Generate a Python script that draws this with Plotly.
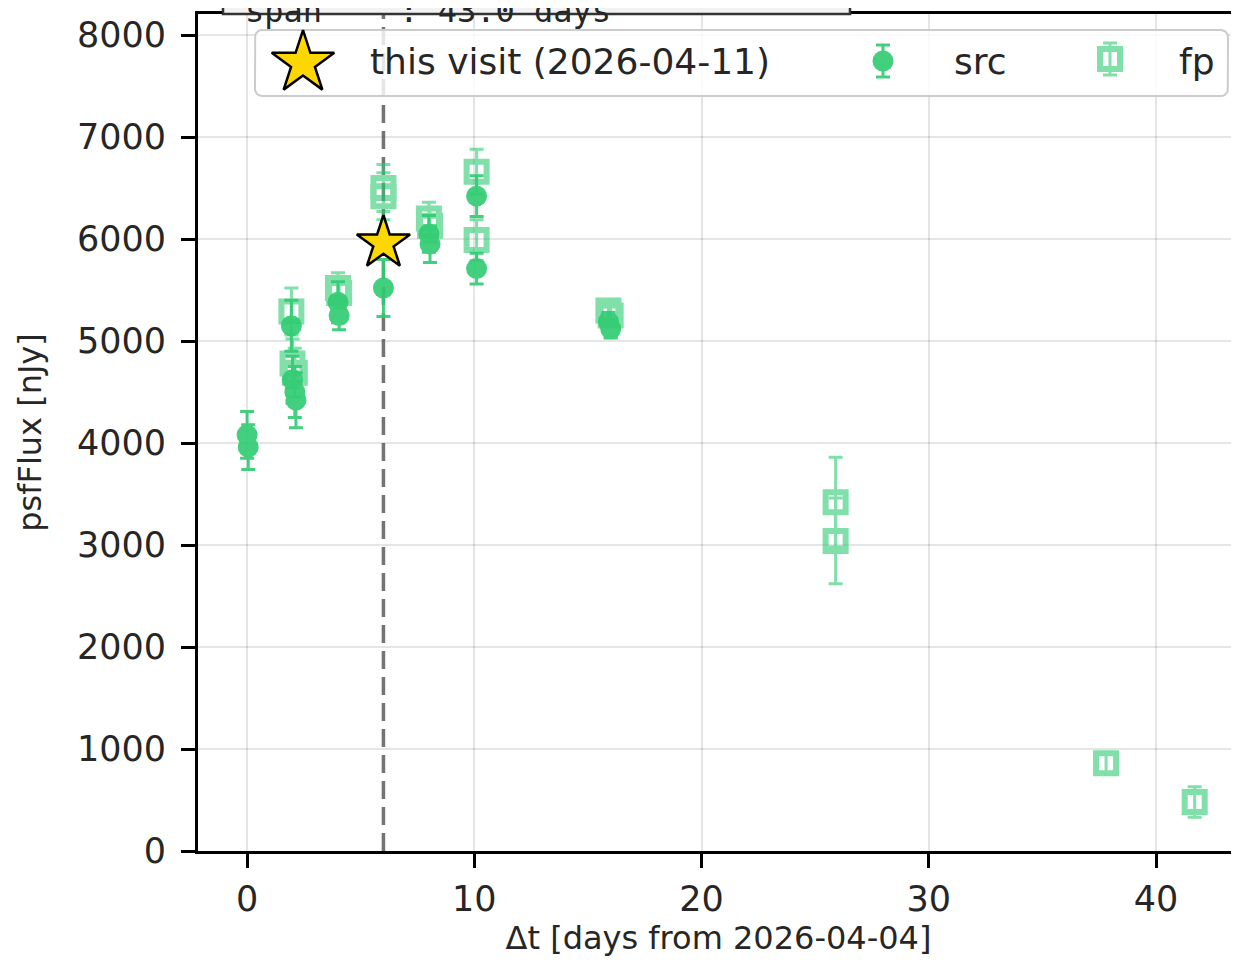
import math

import plotly.graph_objects as go

# --- data ---
src_dt = [0.0, 0.05, 1.95, 2.0, 2.1, 2.15, 4.0, 4.05, 6.0, 8.0, 8.05, 10.1, 10.1, 15.9, 16.0]
src_flux = [4080, 3960, 5150, 4620, 4500, 4420, 5380, 5250, 5520, 6050, 5950, 6420, 5710, 5190, 5120]
src_err = [230, 220, 250, 230, 250, 270, 200, 140, 280, 180, 180, 200, 150, 90, 90]

fp_dt = [1.95, 2.0, 2.1, 4.0, 4.05, 6.0, 6.0, 8.0, 8.05, 10.1, 10.1, 15.9, 16.0, 25.9, 25.9, 37.8, 41.7]
fp_flux = [5290, 4780, 4690, 5520, 5470, 6500, 6420, 6200, 6130, 6660, 5990, 5300, 5250, 3420, 3040, 860, 480]
fp_err = [230, 240, 240, 150, 150, 230, 230, 160, 160, 220, 200, 90, 90, 440, 420, 100, 150]

visit_dt = [6.0]
visit_flux = [5960]
visit_label = "this visit (2026-04-11)"
ref_date = "2026-04-04"
span_text = "span\u00a0\u00a0\u00a0\u00a0:\u00a043.0\u00a0days"

y_ticks = [0, 1000, 2000, 3000, 4000, 5000, 6000, 7000, 8000]
x_ticks = [0, 10, 20, 30, 40]
x_range = [-2.16, 43.65]
y_range = [0, 8206]

GREEN = "#2ecc71"
FONT = "DejaVu Sans"
INK = "#262626"

# the page body has an 8px margin, so the figure sits 8px in from the corner
OFF = 8
WIN_W, WIN_H = 1239, 965
W, H = WIN_W - OFF, WIN_H - 2 * OFF
# plot area in window pixels
L, R, T, B = 198, 1239, 14, 851


def fx(px):
    return (px - L) / (R - L)


def fy(py):
    return (B - py) / (B - T)


def rounded_rect(x0, y0, x1, y1, r=7, n=6):
    # polygon (window px) for a rounded box, returned as plot-area fractions
    xs, ys = [], []
    corners = [(x1 - r, y0 + r, -90), (x1 - r, y1 - r, 0), (x0 + r, y1 - r, 90), (x0 + r, y0 + r, 180)]
    for cx, cy, a0 in corners:
        for k in range(n + 1):
            a = math.radians(a0 + 90 * k / n)
            xs.append(fx(cx + r * math.cos(a)))
            ys.append(fy(cy + r * math.sin(a)))
    xs.append(xs[0])
    ys.append(ys[0])
    return xs, ys


fig = go.Figure()

fig.add_trace(go.Scatter(
    x=visit_dt * 2, y=y_range, mode="lines", showlegend=False, hoverinfo="skip",
    line=dict(color="rgba(70,70,70,0.75)", width=3.5, dash="18px,8px"),
))
fig.add_trace(go.Scatter(
    x=fp_dt, y=fp_flux, mode="markers", name="fp", opacity=0.6,
    marker=dict(symbol="square-open", size=20, color=GREEN, line=dict(width=6, color=GREEN)),
    error_y=dict(type="data", array=fp_err, color=GREEN, thickness=3, width=7),
))
fig.add_trace(go.Scatter(
    x=src_dt, y=src_flux, mode="markers", name="src", opacity=0.9,
    marker=dict(symbol="circle", size=21, color=GREEN),
    error_y=dict(type="data", array=src_err, color=GREEN, thickness=3, width=7),
))
fig.add_trace(go.Scatter(
    x=visit_dt, y=visit_flux, mode="markers", name=visit_label,
    marker=dict(symbol="star", size=40, color="#FFD700", line=dict(width=2.5, color="black")),
))

# legend, drawn by hand on an overlay axis so the keys can be as large as in the reference
bx, by = rounded_rect(255, 30, 1228, 96)
fig.add_trace(go.Scatter(
    x=bx, y=by, xaxis="x2", yaxis="y2", mode="lines", fill="toself", showlegend=False, hoverinfo="skip",
    fillcolor="rgba(255,255,255,0.82)", line=dict(color="#cccccc", width=2),
))
key_err = 16 / (B - T)
fig.add_trace(go.Scatter(
    x=[fx(303)], y=[fy(63)], xaxis="x2", yaxis="y2", mode="markers", showlegend=False, hoverinfo="skip",
    marker=dict(symbol="star", size=47, color="#FFD700", line=dict(width=2.5, color="black")),
))
fig.add_trace(go.Scatter(
    x=[fx(883)], y=[fy(61)], xaxis="x2", yaxis="y2", mode="markers", showlegend=False, hoverinfo="skip",
    opacity=0.9, marker=dict(symbol="circle", size=21, color=GREEN),
    error_y=dict(type="data", array=[key_err], color=GREEN, thickness=3, width=7),
))
fig.add_trace(go.Scatter(
    x=[fx(1110)], y=[fy(59)], xaxis="x2", yaxis="y2", mode="markers", showlegend=False, hoverinfo="skip",
    opacity=0.6, marker=dict(symbol="square-open", size=20, color=GREEN, line=dict(width=6, color=GREEN)),
    error_y=dict(type="data", array=[key_err], color=GREEN, thickness=3, width=7),
))
for text, px in [(visit_label, 368), ("src", 952), ("fp", 1177)]:
    fig.add_annotation(text=text, xref="paper", yref="paper", x=fx(px), y=fy(62),
                       xanchor="left", yanchor="middle", showarrow=False,
                       font=dict(family=FONT, size=36, color=INK))

# stats box peeking in above the axes
fig.add_shape(type="rect", xref="paper", yref="paper", x0=fx(223), x1=fx(850), y0=1.0, y1=1.2,
              fillcolor="#f2f2f2", line=dict(color="#333333", width=2.5), layer="above")
fig.add_annotation(text=span_text, xref="paper", yref="paper", x=fx(243), y=1.0, yshift=-18,
                   xanchor="left", yanchor="bottom", showarrow=False,
                   font=dict(family="DejaVu Sans Mono", size=32, color=INK))

axis_common = dict(
    showline=True, linecolor="black", linewidth=3,
    ticks="outside", ticklen=14, tickwidth=3, tickcolor="black",
    showgrid=True, gridcolor="rgba(0,0,0,0.1)", gridwidth=2,
    zeroline=False, tickfont=dict(family=FONT, size=35, color=INK),
)
fig.update_layout(
    width=W, height=H,
    margin=dict(l=L - OFF, r=WIN_W - R, t=T - OFF, b=H - (B - OFF)),
    paper_bgcolor="white", plot_bgcolor="white",
    showlegend=False,
    xaxis=dict(range=x_range, tickvals=x_ticks, mirror=True, ticklabelstandoff=1,
               title=dict(text=f"Δt [days from {ref_date}]", standoff=13,
                          font=dict(family=FONT, size=32, color=INK)), **axis_common),
    yaxis=dict(range=y_range, tickvals=y_ticks, ticklabelstandoff=8,
               title=dict(text="psfFlux [nJy]", standoff=26,
                          font=dict(family=FONT, size=32, color=INK)), **axis_common),
    xaxis2=dict(overlaying="x", range=[0, 1], visible=False),
    yaxis2=dict(overlaying="y", range=[0, 1], visible=False),
)

fig.write_html("out.html")
